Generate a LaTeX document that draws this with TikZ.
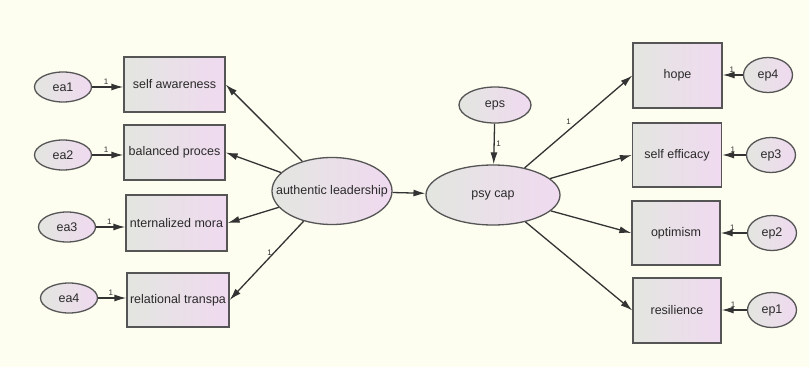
\documentclass[tikz,border=0pt]{standalone}
\usepackage{fontspec}
\setmainfont{Liberation Sans}
\usetikzlibrary{shapes.geometric,arrows.meta}
\definecolor{bgc}{HTML}{FDFEF0}
\definecolor{lgray}{HTML}{E3E6E0}
\definecolor{lpink}{HTML}{F0DAF0}
\definecolor{edgec}{HTML}{555555}
\definecolor{arrc}{HTML}{333333}
\definecolor{txtc}{HTML}{2A2A2A}
\begin{document}
\begin{tikzpicture}[x=1pt,y=-1pt,
  obs/.style={draw=edgec, line width=1.3pt, left color=lgray, right color=lpink,
    minimum width=101pt, minimum height=55pt, inner sep=0pt, text=txtc,
    font=\fontsize{12.5}{14}\selectfont},
  oval/.style={ellipse, draw=edgec, line width=1.3pt, left color=lgray, right color=lpink,
    inner sep=0pt},
  otext/.style={label={[font=\fontsize{12.5}{14}\selectfont, text=txtc, inner sep=0pt]center:#1}},
  conn/.style={draw=arrc, line width=1.3pt, -{Latex[length=12pt,width=7pt]}},
  one/.style={font=\fontsize{8}{9}\selectfont, inner sep=1.5pt, text=arrc}
]
\fill[bgc] (0,0) rectangle (809,367);
\useasboundingbox (0,0) rectangle (809,367);

% left indicators
\node[obs] (b1) at (174.5,84.5) {self awareness};
\node[obs] (b2) at (174.5,152.5) {balanced proces};
\node[obs, minimum height=56pt] (b3) at (176.5,223) {nternalized mora};
\node[obs, minimum width=102pt, minimum height=54pt] (b4) at (178,300) {relational transpa};

\node[oval, minimum width=57pt, minimum height=30pt, otext=ea1] (ea1) at (63,87) {};
\node[oval, minimum width=57pt, minimum height=30pt, otext=ea2] (ea2) at (63,155) {};
\node[oval, minimum width=57pt, minimum height=30pt, otext=ea3] (ea3) at (67,227) {};
\node[oval, minimum width=57pt, minimum height=30pt, otext=ea4] (ea4) at (69,298) {};

% latents
\node[oval, minimum width=120pt, minimum height=67pt, otext=authentic leadership] (al) at (332,191) {};
\node[oval, minimum width=134pt, minimum height=60pt, otext=psy cap] (pc) at (493,195) {};
\node[oval, minimum width=72pt, minimum height=36pt, otext=eps] (eps) at (495,105) {};

% right indicators
\node[obs, minimum width=89pt, minimum height=65pt] (h1) at (677.5,75.5) {hope};
\node[obs, minimum width=89pt, minimum height=64pt] (h2) at (677,155) {self efficacy};
\node[obs, minimum width=88pt, minimum height=64pt] (h3) at (676,233) {optimism};
\node[obs, minimum width=88pt, minimum height=65pt] (h4) at (677,310.5) {resilience};

\node[oval, minimum width=49pt, minimum height=35pt, otext=ep4] (ep4) at (768,75) {};
\node[oval, minimum width=49pt, minimum height=35pt, otext=ep3] (ep3) at (771,155) {};
\node[oval, minimum width=49pt, minimum height=35pt, otext=ep2] (ep2) at (772,233) {};
\node[oval, minimum width=49pt, minimum height=35pt, otext=ep1] (ep1) at (772,310) {};

% error arrows left
\draw[conn] (ea1) -- node[one, pos=0.45, above] {1} (b1.west |- ea1.east);
\draw[conn] (ea2) -- node[one, pos=0.45, above] {1} (b2.west |- ea2.east);
\draw[conn] (ea3) -- node[one, pos=0.45, above] {1} (b3.west |- ea3.east);
\draw[conn] (ea4) -- node[one, pos=0.45, above] {1} (b4.west |- ea4.east);

% loadings left
\draw[conn] (al) -- (b1.east);
\draw[conn] (al) -- (b2.east);
\draw[conn] (al) -- (b3.east);
\draw[conn] (al) -- node[one, pos=0.4, left] {1} (b4.east);

% structural
\draw[conn] (al) -- (pc);
\draw[conn] (eps) -- node[one, pos=0.5, right] {1} (pc);

% loadings right
\draw[conn] (pc) -- node[one, pos=0.45, above left] {1} (h1.west);
\draw[conn] (pc) -- (h2.west);
\draw[conn] (pc) -- (h3.west);
\draw[conn] (pc) -- (h4.west);

% error arrows right
\draw[conn] (ep4) -- node[one, pos=0.55, above] {1} (h1.east |- ep4.west);
\draw[conn] (ep3) -- node[one, pos=0.55, above] {1} (h2.east |- ep3.west);
\draw[conn] (ep2) -- node[one, pos=0.55, above] {1} (h3.east |- ep2.west);
\draw[conn] (ep1) -- node[one, pos=0.55, above] {1} (h4.east |- ep1.west);
\end{tikzpicture}
\end{document}
